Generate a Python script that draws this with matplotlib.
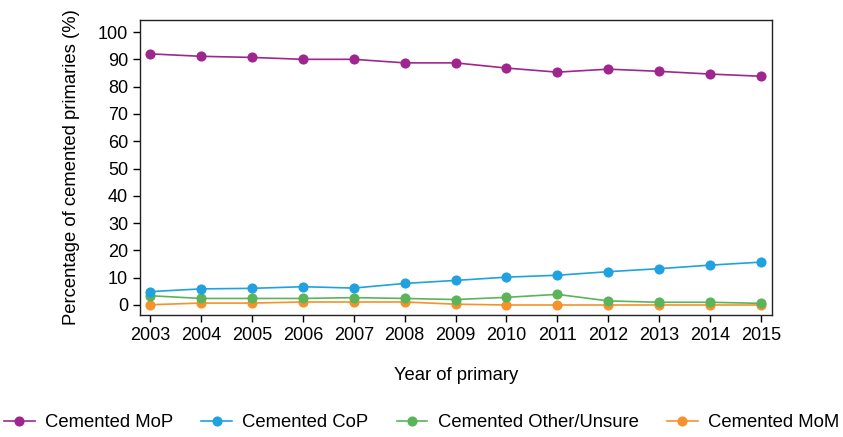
import matplotlib
matplotlib.use("Agg")
import matplotlib.pyplot as plt

years = [2003, 2004, 2005, 2006, 2007, 2008, 2009, 2010, 2011, 2012, 2013, 2014, 2015]
mop = [92.0, 91.1, 90.7, 90.0, 90.0, 88.7, 88.7, 86.8, 85.3, 86.4, 85.6, 84.6, 83.8]
cop = [4.9, 5.9, 6.1, 6.7, 6.2, 7.9, 9.0, 10.2, 10.9, 12.2, 13.3, 14.6, 15.7]
other = [3.4, 2.4, 2.4, 2.4, 2.7, 2.4, 2.0, 2.8, 3.9, 1.5, 1.0, 1.0, 0.6]
mom = [0.1, 0.7, 0.7, 1.1, 1.1, 1.1, 0.3, 0.0, 0.0, 0.0, 0.0, 0.0, 0.0]

series = [
    ("Cemented MoP", mop, "#A0268F"),
    ("Cemented CoP", cop, "#1FA2DF"),
    ("Cemented Other/Unsure", other, "#5BB45A"),
    ("Cemented MoM", mom, "#F5922B"),
]

plt.rcParams["font.family"] = ["Liberation Sans", "DejaVu Sans"]

fig = plt.figure(figsize=(8.43, 4.37), dpi=100)
ax = fig.add_axes([0.1661, 0.2792, 0.7497, 0.675])

# later series drawn first so MoP/CoP sit on top
for label, vals, color in reversed(series):
    ax.plot(years, vals, color=color, lw=1.2, marker="o", markersize=7.3,
            markeredgewidth=0, label=label)

ax.set_xlim(2002.80, 2015.22)
ax.set_ylim(-3.66, 104.4)
ax.set_xticks(years)
ax.set_yticks(range(0, 101, 10))
ax.tick_params(direction="out", length=5, width=1, labelsize=13, colors="black", pad=3.5)
for s in ax.spines.values():
    s.set_linewidth(1.0)
    s.set_color("#222222")

ax.set_xlabel("Year of primary", fontsize=13.3, labelpad=17)
ax.set_ylabel("Percentage of cemented primaries (%)", fontsize=13.3, labelpad=13)

handles, labels = ax.get_legend_handles_labels()
handles, labels = handles[::-1], labels[::-1]
fig.legend(handles, labels, loc="lower center", ncol=4, frameon=False,
           fontsize=13.3, bbox_to_anchor=(0.5, -0.025), handlelength=1.65,
           columnspacing=1.55, handletextpad=0.55)

fig.savefig("out.png", dpi=100)
